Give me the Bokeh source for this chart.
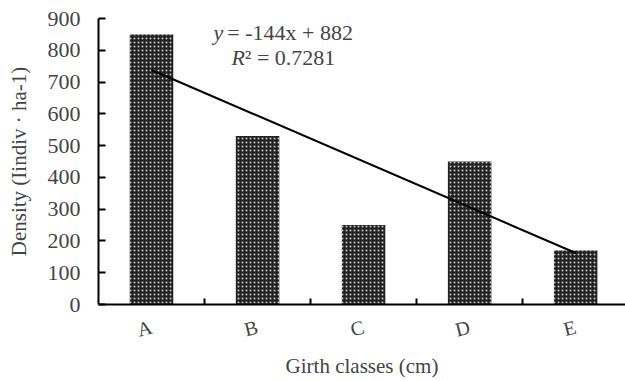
from bokeh.plotting import figure
from bokeh.models import Range1d, FixedTicker, Label, ColumnDataSource
from bokeh.embed import file_html
from bokeh.resources import INLINE

categories = ["A", "B", "C", "D", "E"]
density = [850, 530, 250, 450, 170]
slope = -144
intercept = 882
eq_line1 = " = -144x + 882"
eq_line2 = "² = 0.7281"
y_ticks = [0, 100, 200, 300, 400, 500, 600, 700, 800, 900]

xs = list(range(len(categories)))
trend_x = [xs[0], xs[-1]]
trend_y = [slope * (i + 1) + intercept for i in trend_x]

FONT = "Liberation Serif"

p = figure(frame_width=527, frame_height=286, output_backend="svg", toolbar_location=None,
           x_range=Range1d(-0.5, 4.47), y_range=Range1d(0, 900),
           min_border_left=98, min_border_right=0, min_border_top=18, min_border_bottom=70)
p.outline_line_color = None
p.grid.grid_line_color = None
p.background_fill_color = "white"

src = ColumnDataSource(dict(x=xs, top=density))
p.vbar(x="x", top="top", width=0.41, source=src, fill_color="#222222", line_color=None,
       hatch_pattern="dot", hatch_color="white", hatch_scale=4, hatch_weight=1, hatch_alpha=0.75)

p.line(trend_x, trend_y, line_color="black", line_width=2)

# axes
xa = p.xaxis[0]
xa.ticker = FixedTicker(ticks=xs, minor_ticks=[0.5, 1.5, 2.5, 3.5])
xa.major_label_overrides = {i: c for i, c in enumerate(categories)}
xa.major_tick_line_color = None
xa.minor_tick_in = 6
xa.minor_tick_out = 0
xa.minor_tick_line_width = 2
xa.axis_line_width = 2
xa.major_label_orientation = 0.25
xa.major_label_standoff = 16
xa.major_label_text_font = FONT
xa.major_label_text_font_size = "20px"
xa.axis_label = "Girth classes (cm)"
xa.axis_label_text_font = FONT
xa.axis_label_text_font_size = "21px"
xa.axis_label_text_font_style = "normal"
xa.axis_label_standoff = 0

ya = p.yaxis[0]
ya.ticker = FixedTicker(ticks=y_ticks)
ya.minor_tick_line_color = None
ya.major_tick_in = 7
ya.major_tick_out = 0
ya.major_tick_line_width = 2
ya.axis_line_width = 2
ya.major_label_standoff = 18
ya.major_label_text_font = FONT
ya.major_label_text_font_size = "22px"
ya.axis_label = "Density (Iindiv · ha-1)"
ya.axis_label_text_font = FONT
ya.axis_label_text_font_size = "21px"
ya.axis_label_text_font_style = "normal"
ya.axis_label_standoff = 14

common = dict(text_font=FONT, text_font_size="22px", text_baseline="middle", text_align="left")
p.add_layout(Label(x=0.585, y=855, text="y", text_font_style="italic", **common))
p.add_layout(Label(x=0.715, y=855, text=eq_line1, **common))
p.add_layout(Label(x=0.755, y=778, text="R", text_font_style="italic", **common))
p.add_layout(Label(x=0.88, y=778, text=eq_line2, **common))

open("out.html", "w").write(file_html(p, INLINE))
